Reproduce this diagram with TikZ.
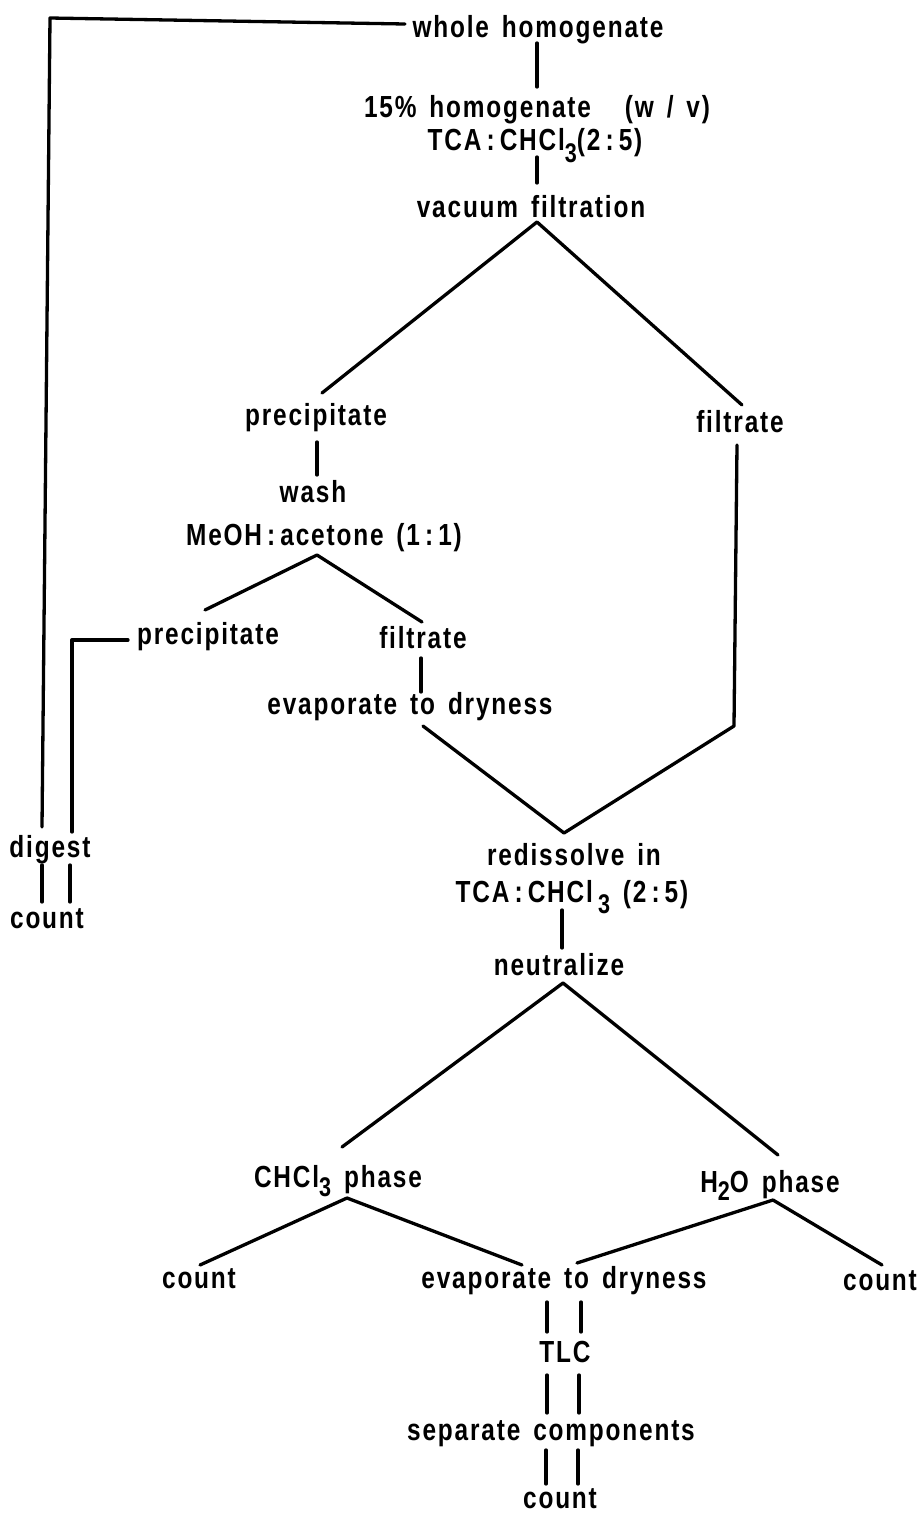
\documentclass[tikz,border=0pt]{standalone}
\usepackage{fontspec}
\newfontfamily\lettering{Liberation Sans}[FakeStretch=0.8, LetterSpace=6, WordSpace=1.5]
\newcommand\lowsub[2][11pt]{\raisebox{-#1}{\fontsize{27}{27}\selectfont #2}}
\newcommand\stepfont{\lettering\bfseries\fontsize{30.5}{32}\selectfont}
\begin{document}
\begin{tikzpicture}[x=1pt,y=-1pt,
  steptext/.style={anchor=base, inner sep=0pt, outer sep=0pt, font=\stepfont},
  link/.style={line width=3.3pt, line cap=round, line join=round}]
\useasboundingbox (0,0) rectangle (924,1516);

% ---- labels ----
\node[steptext] (whole)   at (538,37)   {whole homogenate};
\node[steptext] (hom)     at (537,117)  {15\% homogenate\hspace{34pt}(w / v)};
\node[steptext] (tcaA)    at (535,150)  {TCA\,:\,CHCl\lowsub[12pt]{3}(2\,:\,5)};
\node[steptext] (vac)     at (531,217)  {vacuum filtration};
\node[steptext] (precA)   at (316,425)  {precipitate};
\node[steptext] (filtA)   at (740,432)  {filtrate};
\node[steptext] (wash)    at (313,502)  {wash};
\node[steptext] (meoh)    at (324,545)  {MeOH\,:\,acetone (1\,:\,1)};
\node[steptext] (precB)   at (208,644)  {precipitate};
\node[steptext] (filtB)   at (423,648)  {filtrate};
\node[steptext] (evapA)   at (410,714)  {evaporate to dryness};
\node[steptext] (redis)   at (574,865)  {redissolve in};
\node[steptext] (tcaB)    at (572,902)  {TCA\,:\,CHCl\,\lowsub{3} (2\,:\,5)};
\node[steptext] (neut)    at (559,975)  {neutralize};
\node[steptext] (chcl)    at (338,1187) {CHCl\lowsub[9pt]{3} phase};
\node[steptext] (water)   at (770,1192) {H\lowsub[8pt]{2}O phase};
\node[steptext] (cntL)    at (199,1288) {count};
\node[steptext] (evapB)   at (564,1288) {evaporate to dryness};
\node[steptext] (cntR)    at (880,1290) {count};
\node[steptext] (tlc)     at (565,1362) {TLC};
\node[steptext] (sep)     at (551,1440) {separate components};
\node[steptext] (cntB)    at (560,1508) {count};
\node[steptext] (digest)  at (50,857)   {digest};
\node[steptext] (cntD)    at (47,928)   {count};

% ---- junction points ----
\coordinate (wholeL)  at (405,24);
\coordinate (cornerA) at (50,18);
\coordinate (digTopA) at (42,827);
\coordinate (precBL)  at (128,640);
\coordinate (cornerB) at (72,640);
\coordinate (digTopB) at (72,832);

\coordinate (wholeB)  at (537,43);
\coordinate (homT)    at (537,87);
\coordinate (tcaAB)   at (537,157);
\coordinate (vacT)    at (537,183);

\coordinate (vacApex) at (537,222);
\coordinate (precAT)  at (322,393);
\coordinate (filtAT)  at (742,405);

\coordinate (precAB)  at (317,442);
\coordinate (washT)   at (317,475);

\coordinate (meohApex) at (317,555);
\coordinate (precBT)   at (205,610);
\coordinate (filtBT)   at (422,622);

\coordinate (filtBB)  at (421,658);
\coordinate (evapAT)  at (421,692);

\coordinate (evapAB)  at (423,726);
\coordinate (redisT)  at (564,833);
\coordinate (filtCor) at (734,726);
\coordinate (filtAB)  at (737,445);

\coordinate (tcaBB)   at (562,910);
\coordinate (neutT)   at (562,948);

\coordinate (neutApex) at (563,983);
\coordinate (chclT)    at (342,1147);
\coordinate (waterT)   at (778,1155);

\coordinate (chclApex) at (347,1198);
\coordinate (cntLT)    at (200,1265);
\coordinate (evapBTL)  at (522,1265);

\coordinate (waterApex) at (773,1200);
\coordinate (evapBTR)   at (577,1263);
\coordinate (cntRT)     at (882,1265);

% ---- connectors ----
\draw[link] (wholeL) -- (cornerA) -- (digTopA);
\draw[link] (precBL) -- (cornerB) -- (digTopB);
\draw[link] (wholeB) -- (homT);
\draw[link] (tcaAB) -- (vacT);
\draw[link] (precAT) -- (vacApex) -- (filtAT);
\draw[link] (precAB) -- (washT);
\draw[link] (precBT) -- (meohApex) -- (filtBT);
\draw[link] (filtBB) -- (evapAT);
\draw[link] (evapAB) -- (redisT) -- (filtCor) -- (filtAB);
\draw[link] (tcaBB) -- (neutT);
\draw[link] (chclT) -- (neutApex) -- (waterT);
\draw[link] (cntLT) -- (chclApex) -- (evapBTL);
\draw[link] (evapBTR) -- (waterApex) -- (cntRT);

% paired strokes between stacked steps
\foreach \xa/\xb/\ya/\yb in {42/70/865/902, 547/581/1302/1332,
                             547/579/1375/1413, 546/578/1450/1484} {
  \draw[link] (\xa,\ya) -- (\xa,\yb);
  \draw[link] (\xb,\ya) -- (\xb,\yb);
}
\end{tikzpicture}
\end{document}
